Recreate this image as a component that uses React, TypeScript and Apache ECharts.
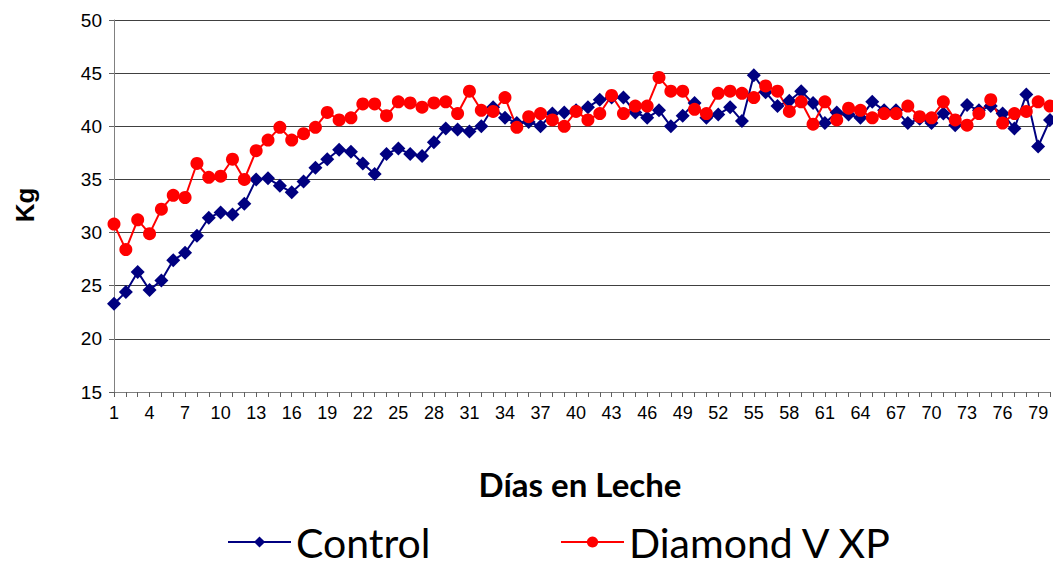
import React, { useEffect, useRef } from "react";
import * as echarts from "echarts";

const days: string[] = Array.from({ length: 80 }, (_, i) => String(i + 1));

const control: number[] = [
  23.3, 24.4, 26.3, 24.6, 25.5, 27.4, 28.1, 29.7, 31.4, 31.9,
  31.7, 32.7, 35.0, 35.1, 34.4, 33.8, 34.8, 36.1, 36.9, 37.8,
  37.6, 36.5, 35.5, 37.4, 37.9, 37.4, 37.2, 38.5, 39.8, 39.7,
  39.5, 40.0, 41.8, 40.8, 40.3, 40.4, 40.0, 41.2, 41.3, 41.5,
  41.8, 42.5, 42.7, 42.7, 41.3, 40.8, 41.5, 40.0, 41.0, 42.2,
  40.8, 41.1, 41.8, 40.5, 44.8, 43.2, 41.9, 42.4, 43.3, 42.2,
  40.3, 41.3, 41.1, 40.8, 42.3, 41.5, 41.5, 40.3, 40.7, 40.3,
  41.2, 40.1, 42.0, 41.5, 41.9, 41.2, 39.8, 43.0, 38.1, 40.6,
];

const diamondV: number[] = [
  30.8, 28.4, 31.2, 29.9, 32.2, 33.5, 33.3, 36.5, 35.2, 35.3,
  36.9, 35.0, 37.7, 38.7, 39.9, 38.7, 39.3, 39.9, 41.3, 40.6,
  40.8, 42.1, 42.1, 41.0, 42.3, 42.2, 41.8, 42.2, 42.3, 41.2,
  43.3, 41.5, 41.4, 42.7, 39.9, 40.9, 41.2, 40.6, 40.0, 41.4,
  40.6, 41.2, 42.9, 41.2, 41.9, 41.9, 44.6, 43.3, 43.3, 41.6,
  41.2, 43.1, 43.3, 43.1, 42.7, 43.8, 43.3, 41.4, 42.3, 40.2,
  42.3, 40.6, 41.7, 41.5, 40.8, 41.2, 41.2, 41.9, 40.9, 40.8,
  42.3, 40.6, 40.1, 41.2, 42.5, 40.3, 41.2, 41.4, 42.3, 41.9,
];

const seriesNames: string[] = ["Control", "Diamond V XP"];

export default function App() {
  const ref = useRef<HTMLDivElement>(null);
  useEffect(() => {
    if (!ref.current) return;
    const chart = echarts.init(ref.current, undefined, { renderer: "svg" });
    const legendText = {
      fontFamily: "Lato",
      fontSize: 41,
      color: "#000",
      lineHeight: 42,
      padding: [0, 0, 0, 0],
    };
    chart.setOption({
      animation: false,
      backgroundColor: "#fff",
      grid: { left: 114, right: 3, top: 20, bottom: 173 },
      legend: [
        {
          data: [seriesNames[0]],
          left: 227,
          top: 521,
          padding: 0,
          itemWidth: 63,
          itemHeight: 14,
          itemGap: 0,
          textStyle: legendText,
        },
        {
          data: [seriesNames[1]],
          left: 560,
          top: 521,
          padding: 0,
          itemWidth: 63,
          itemHeight: 14,
          itemGap: 0,
          textStyle: legendText,
        },
      ],
      xAxis: {
        type: "category",
        data: days,
        boundaryGap: false,
        axisLine: { lineStyle: { color: "#808080", width: 1 } },
        axisTick: { interval: 0, length: 5, lineStyle: { color: "#606060" } },
        axisLabel: {
          interval: 2,
          margin: 12,
          fontFamily: "Liberation Sans",
          fontSize: 18,
          color: "#000",
        },
        splitLine: { show: false },
      },
      yAxis: {
        type: "value",
        min: 15,
        max: 50,
        interval: 5,
        axisLine: { show: true, lineStyle: { color: "#808080", width: 1 } },
        axisTick: { show: true, length: 5, lineStyle: { color: "#606060" } },
        axisLabel: {
          margin: 12,
          fontFamily: "Liberation Sans",
          fontSize: 19,
          color: "#000",
        },
        splitLine: { show: true, lineStyle: { color: "#404040", width: 1 } },
      },
      graphic: [
        {
          type: "text",
          x: 580,
          y: 484,
          style: {
            text: "Días en Leche",
            fontFamily: "Lato",
            fontWeight: "bold",
            fontSize: 33,
            fill: "#000",
            align: "center",
            verticalAlign: "middle",
          },
        },
        {
          type: "text",
          x: 25,
          y: 205,
          rotation: Math.PI / 2,
          style: {
            text: "Kg",
            fontFamily: "Liberation Sans",
            fontWeight: "bold",
            fontSize: 26,
            fill: "#000",
            align: "center",
            verticalAlign: "middle",
          },
        },
      ],
      series: [
        {
          name: seriesNames[0],
          type: "line",
          data: control,
          symbol: "diamond",
          symbolSize: 14,
          showAllSymbol: true,
          color: "#000080",
          lineStyle: { color: "#000080", width: 2 },
          itemStyle: { color: "#000080" },
        },
        {
          name: seriesNames[1],
          type: "line",
          data: diamondV,
          symbol: "circle",
          symbolSize: 13,
          showAllSymbol: true,
          color: "#FF0000",
          lineStyle: { color: "#FF0000", width: 2 },
          itemStyle: { color: "#FF0000" },
        },
      ],
    });
    return () => chart.dispose();
  }, []);
  return (
    <div
      ref={ref}
      style={{ position: "fixed", left: 0, top: 0, width: 1053, height: 565 }}
    />
  );
}
